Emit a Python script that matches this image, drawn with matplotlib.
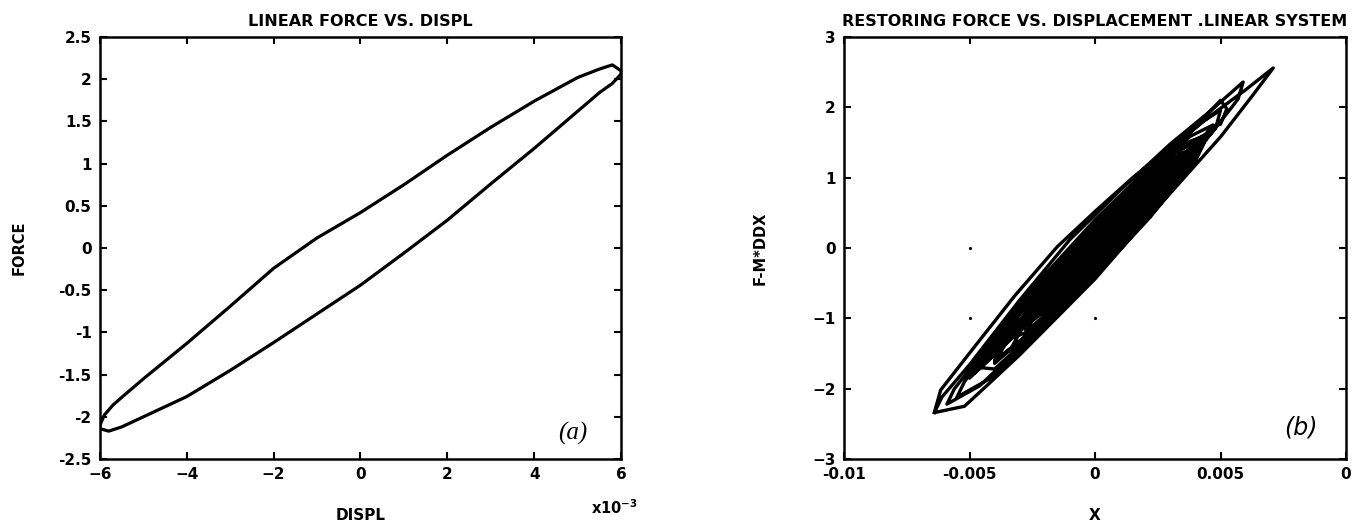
import matplotlib
matplotlib.use("Agg")
import matplotlib.pyplot as plt

plt.rcParams['font.family'] = ['DejaVu Sans']
plt.rcParams['font.weight'] = 'bold'

# ---- panel (a): linear force vs displacement (x in 1e-3) ----
displ_up = [-6, -5.9, -5.7, -5.5, -5, -4, -3, -2, -1, 0, 1, 2, 3, 4, 5, 5.5, 5.8, 6]
force_up = [-2.10, -1.98, -1.86, -1.77, -1.55, -1.13, -0.69, -0.24, 0.12, 0.42,
            0.75, 1.10, 1.43, 1.74, 2.02, 2.12, 2.17, 2.10]
displ_down = [6, 5.8, 5.5, 5, 4, 3, 2, 1, 0, -1, -2, -3, -4, -5, -5.5, -5.8, -6]
force_down = [2.06, 1.95, 1.84, 1.62, 1.18, 0.76, 0.33, -0.06, -0.44, -0.78,
              -1.12, -1.45, -1.76, -2.00, -2.12, -2.17, -2.14]

# ---- panel (b): restoring force trace (x in 1e-3) ----
path_x = [
    # outer loops
    -6.4, -6.15, -5.1, -3.2, -1.5, 0, 1.5, 3.0, 4.6, 6.0, 7.1,
    6.3, 5.0, 3.0, 1.5, 0, -1.5, -3.0, -4.2, -5.2, -6.4,
    -6.1, -5.0, -3.0, -1.0, 1.0, 3.0, 4.5, 5.9,
    5.7, 5.4, 4.6, 3.0, 1.0, -1.0, -3.0, -4.6, -5.9,
    -5.6, -4.0, -2.0, 0, 2.0, 4.0, 5.0,
    5.25, 5.0, 4.6, 3.5, 1.5, -0.5, -2.5, -4.2, -5.5,
    -5.2, -3.6, -1.5, 0.5, 2.5, 4.3, 5.0,
    4.8, 3.6, 1.6, -0.4, -2.4, -4.0, -4.6,
    # core loops
    -4.2, -2.5, -0.5, 1.5, 3.5, 4.4,
    3.6, 1.6, -0.4, -2.4, -4.0, -3.9,
    -3.4, -1.8, 0.2, 2.2, 3.4, 4.0,
    3.2, 1.2, -0.8, -2.8, -3.5,
    -3.0, -1.5, 0.5, 2.2, 3.6,
    2.8, 1.0, -1.0, -2.6, -3.0,
    -2.4, -0.8, 1.0, 2.4, 3.2,
    2.4, 0.6, -1.2, -2.4, -4.2,
    -3.6, -2.0, 0, 2.0, 3.8, 4.7,
    4.0, 2.2, 0.2, -1.8, -3.4, -2.6,
    -2.0, -0.6, 1.0, 2.2, 2.8,
    2.0, 0.4, -1.2, -2.2, -4.8,
    -4.2, -2.6, -0.6, 1.4, 3.2, 4.2,
    3.4, 1.6, -0.4, -2.4, -4.0, -3.2,
    -2.4, -0.6, 1.4, 3.0, 3.8,
    3.0, 1.0, -1.0, -2.6, -3.8,
    -3.2, -1.6, 0.2, 1.8, 3.0,
    2.4, 0.8, -1.0, -2.8, -2.2,
    -1.6, -0.2, 1.2, 2.4,
    1.8, 0.4, -1.0, -2.2,
    # thin loops along the middle of the band
    -4.0, -3.0, -1.0, 1.0, 3.0, 4.0,
    3.0, 1.0, -1.0, -3.0, -3.6,
    -2.6, -0.6, 1.4, 3.2, 4.3,
    3.4, 1.4, -0.6, -2.6, -3.2,
    -2.2, -0.2, 1.8, 3.4,
    2.4, 0.4, -1.6, -4.4,
    -3.4, -1.4, 0.6, 2.6, 3.8,
    2.8, 0.8, -1.2, -3.2, -2.8,
    -2.0, 0, 2.0, 3.0,
    2.0, 0, -2.0, -5.0,
    -4.0, -2.0, 0, 2.0, 4.0, 4.6,
    3.8, 2.0, 0, -2.0, -4.0, -3.8,
    -3.0, -1.0, 1.0, 3.0, 4.5,
    3.6, 1.6, -0.4, -2.4, -3.0,
    -2.0, 0, 2.0, 3.6,
    2.6, 0.6, -1.4, -3.0,
]
path_f = [
    -2.34, -2.02, -1.54, -0.68, 0.02, 0.52, 1.00, 1.43, 1.88, 2.25, 2.56,
    2.18, 1.58, 0.78, 0.18, -0.44, -0.98, -1.52, -1.92, -2.25, -2.34,
    -2.12, -1.66, -0.74, 0.12, 0.82, 1.48, 1.92, 2.36,
    2.12, 1.98, 1.62, 0.92, 0.14, -0.66, -1.42, -1.96, -2.22,
    -2.00, -1.28, -0.46, 0.36, 1.08, 1.72, 2.10,
    1.98, 1.76, 1.72, 1.12, 0.30, -0.52, -1.30, -1.86, -2.12,
    -1.90, -1.12, -0.26, 0.50, 1.24, 1.80, 1.96,
    1.70, 1.20, 0.40, -0.42, -1.20, -1.72, -1.70,
    -1.33, -0.60, 0.18, 0.88, 1.48, 1.60,
    1.10, 0.24, -0.50, -1.16, -1.60, -1.45,
    -1.10, -0.40, 0.35, 1.03, 1.34, 1.42,
    0.99, 0.16, -0.57, -1.21, -1.30,
    -0.92, -0.22, 0.56, 1.09, 1.34,
    0.75, -0.01, -0.72, -1.20, -1.10,
    -0.77, -0.10, 0.55, 0.98, 1.10,
    0.72, 0.02, -0.62, -0.98, -1.55,
    -1.10, -0.38, 0.40, 1.09, 1.59, 1.75,
    1.24, 0.44, -0.33, -1.01, -1.46, -0.95,
    -0.60, 0.06, 0.63, 0.93, 1.00,
    0.54, -0.16, -0.69, -0.91, -1.78,
    -1.37, -0.67, 0.10, 0.80, 1.35, 1.55,
    1.04, 0.28, -0.46, -1.14, -1.62, -1.15,
    -0.77, -0.07, 0.64, 1.16, 1.38,
    0.98, 0.21, -0.50, -1.02, -1.40,
    -0.99, -0.27, 0.40, 0.91, 1.05,
    0.68, -0.03, -0.69, -1.25, -0.80,
    -0.46, 0.14, 0.61, 0.88,
    0.51, -0.08, -0.55, -0.80,
    # thin loops
    -1.44, -1.04, -0.31, 0.41, 1.12, 1.44,
    1.06, 0.33, -0.39, -1.10, -1.30,
    -0.84, -0.10, 0.62, 1.23, 1.55,
    1.16, 0.42, -0.30, -1.00, -1.15,
    -0.84, -0.17, 0.56, 1.22,
    0.66, -0.08, -0.78, -1.58,
    -1.10, -0.30, 0.42, 1.10, 1.37,
    1.01, 0.31, -0.41, -1.15, -1.00,
    -0.67, 0.08, 0.78, 1.08,
    0.60, -0.14, -0.84, -1.85,
    -1.44, -0.74, -0.02, 0.70, 1.44, 1.68,
    1.19, 0.42, -0.32, -1.02, -1.64, -1.38,
    -0.92, -0.08, 0.64, 1.32, 1.64,
    1.36, 0.72, 0.00, -0.76, -1.08,
    -0.88, -0.22, 0.52, 1.30,
    0.64, -0.16, -0.86, -1.40,
]
grid_dots_x = [-0.005, -0.005, 0.0]
grid_dots_y = [0, -1, -1]

fig = plt.figure(figsize=(13.58, 5.29), dpi=100)

# (a)
ax1 = fig.add_axes([0.0736, 0.1323, 0.3837, 0.7977])
ax1.plot(displ_up + displ_down, force_up + force_down, color='black', lw=2.3)
ax1.set_xlim(-6, 6)
ax1.set_ylim(-2.5, 2.5)
ax1.set_xticks([-6, -4, -2, 0, 2, 4, 6])
ax1.set_yticks([2.5, 2, 1.5, 1, 0.5, 0, -0.5, -1, -1.5, -2, -2.5])
ax1.set_yticklabels(['2.5', '2', '1.5', '1', '0.5', '0', '-0.5', '-1', '-1.5', '-2', '-2.5'])
ax1.set_title('LINEAR FORCE VS. DISPL', fontsize=11.5, fontweight='bold', pad=8)
ax1.set_xlabel('DISPL', fontsize=11, fontweight='bold')
ax1.xaxis.set_label_coords(0.5, -0.115)
ax1.set_ylabel('FORCE', fontsize=10.5, fontweight='bold')
ax1.yaxis.set_label_coords(-0.14, 0.5)
ax1.text(0.987, -0.115, 'x10$^{-3}$', transform=ax1.transAxes, ha='center', va='center',
         fontsize=10.5, fontweight='bold')
ax1.text(4.9, -2.2, '(a)', fontsize=18, style='italic', family='Liberation Serif',
         fontweight='normal', ha='center', va='center')

# (b)
ax2 = fig.add_axes([0.6215, 0.1323, 0.3697, 0.7977])
ax2.plot([v * 1e-3 for v in path_x], path_f, color='black', lw=2.4)
ax2.plot(grid_dots_x, grid_dots_y, ls='none', marker='.', ms=2.5, color='black')
ax2.set_xlim(-0.01, 0.01)
ax2.set_ylim(-3, 3)
ax2.set_xticks([-0.01, -0.005, 0, 0.005, 0.01])
ax2.set_xticklabels(['-0.01', '-0.005', '0', '0.005', '0'])
ax2.set_yticks([3, 2, 1, 0, -1, -2, -3])
ax2.set_title('RESTORING FORCE VS. DISPLACEMENT .LINEAR SYSTEM', fontsize=11.5,
              fontweight='bold', pad=8)
ax2.set_xlabel('X', fontsize=11, fontweight='bold')
ax2.xaxis.set_label_coords(0.5, -0.115)
ax2.set_ylabel('F-M*DDX', fontsize=10.5, fontweight='bold')
ax2.yaxis.set_label_coords(-0.153, 0.5)
ax2.text(0.0082, -2.55, '(b)', fontsize=17, style='italic', fontweight='normal',
         ha='center', va='center')

for ax in (ax1, ax2):
    ax.tick_params(direction='in', top=True, right=True, length=5, width=1.5,
                   labelsize=11, pad=6)
    for lab in ax.get_xticklabels() + ax.get_yticklabels():
        lab.set_fontweight('bold')
    for s in ax.spines.values():
        s.set_linewidth(1.8)

fig.savefig('out.png', dpi=100)
